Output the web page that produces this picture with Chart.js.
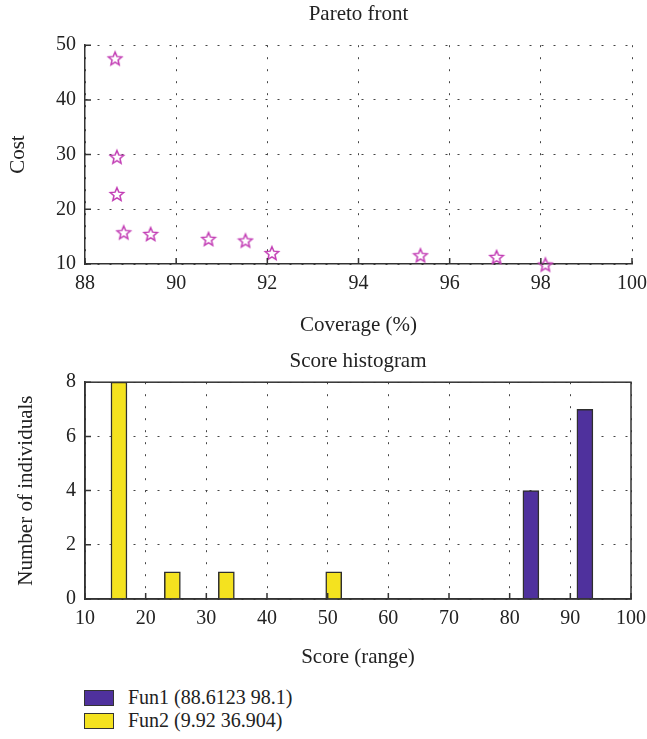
<!DOCTYPE html>
<html lang="en">
<head>
<meta charset="UTF-8">
<title>Pareto front and score histogram</title>
<script src="https://cdn.jsdelivr.net/npm/chart.js"></script>
<style>
  body { margin: 0; background: #fff; }
  #wrap { position: relative; width: 647px; height: 739px; font-family: "Liberation Serif", serif; color: #222; }
  #paretoChart { position: absolute; left: 0; top: 0; }
  #histChart { position: absolute; left: 0; top: 345px; }
  #legend { position: absolute; left: 84px; top: 686px; font-size: 20px; }
  .item { display: flex; align-items: center; height: 23px; }
  .box { width: 28px; height: 14px; border: 1.5px solid #333; margin-right: 14px; }
</style>
</head>
<body>
<div id="wrap">
  <canvas id="paretoChart" width="647" height="345"></canvas>
  <canvas id="histChart" width="647" height="335"></canvas>
  <div id="legend"></div>
</div>

<script>
// Pareto front: coverage (%) vs cost
const coverage = [88.66, 88.70, 88.70, 88.85, 89.44, 90.71, 91.52, 92.10, 95.36, 97.03, 98.10];
const cost     = [47.6, 29.6, 22.8, 15.8, 15.5, 14.6, 14.3, 12.0, 11.6, 11.3, 9.92];

// Score histogram: bin centres and counts per function
const fun1Label  = 'Fun1 (88.6123 98.1)';
const fun1Bins   = [83.5, 92.4];
const fun1Counts = [4, 7];
const fun2Label  = 'Fun2 (9.92 36.904)';
const fun2Bins   = [15.6, 24.4, 33.3, 51.0];
const fun2Counts = [8, 1, 1, 1];

const serif = '"Liberation Serif", "Times New Roman", serif';
const ink = '#222';
const tickFont = { family: serif, size: 20 };
const titleFont = { family: serif, size: 21, weight: 'normal' };

// hollow five-point star used as the scatter marker
function starMarker(r, color) {
  const s = Math.ceil(r * 2 + 4);
  const c = document.createElement('canvas');
  c.width = c.height = s;
  const g = c.getContext('2d');
  g.strokeStyle = color;
  g.lineWidth = 1.5;
  g.lineJoin = 'miter';
  g.beginPath();
  for (let i = 0; i < 10; i++) {
    const rad = i % 2 ? r * 0.45 : r;
    const ang = -Math.PI / 2 + i * Math.PI / 5;
    const px = s / 2 + rad * Math.cos(ang);
    const py = s / 2 + rad * Math.sin(ang) + r * 0.1;
    if (i) g.lineTo(px, py); else g.moveTo(px, py);
  }
  g.closePath();
  g.stroke();
  return c;
}

// short inward tick marks on left/bottom axes, optional box frame
const axisMarks = {
  id: 'axisMarks',
  afterDraw(chart, args, opts) {
    const { ctx, chartArea: a, scales: { x, y } } = chart;
    ctx.save();
    ctx.strokeStyle = '#333';
    ctx.lineWidth = 1.5;
    ctx.beginPath();
    x.ticks.forEach(t => {
      const px = x.getPixelForValue(t.value);
      ctx.moveTo(px, a.bottom);
      ctx.lineTo(px, a.bottom - 6);
    });
    y.ticks.forEach(t => {
      const py = y.getPixelForValue(t.value);
      ctx.moveTo(a.left, py);
      ctx.lineTo(a.left + 6, py);
    });
    ctx.stroke();
    if (opts.box) ctx.strokeRect(a.left, a.top, a.right - a.left, a.bottom - a.top);
    ctx.restore();
  }
};

// fixed-size x axis: no extra room reserved for the end labels
function fixX(s) {
  s.height = 81;
  s.paddingLeft = 0;
  s.paddingRight = 0;
}

function fixY(s) {
  s.width = 85;
}

function axis(min, max, step, title, extra) {
  return Object.assign({
    type: 'linear',
    min: min,
    max: max,
    offset: false,
    ticks: { stepSize: step, font: tickFont, color: ink },
    grid: { color: '#444', lineWidth: 1, drawTicks: false, offset: false },
    border: { display: true, color: '#333', width: 1.5, dash: [2, 10] },
    title: { display: true, text: title, font: titleFont, color: ink }
  }, extra);
}

const paretoChart = new Chart(document.getElementById('paretoChart'), {
  type: 'scatter',
  data: {
    datasets: [{
      label: 'Pareto front',
      data: coverage.map((v, i) => ({ x: v, y: cost[i] })),
      pointStyle: starMarker(7, '#c23cb4'),
      pointRadius: 7,
      clip: false
    }]
  },
  plugins: [axisMarks],
  options: {
    responsive: false,
    animation: false,
    layout: { padding: { left: 0, right: 15, top: 0, bottom: 0 } },
    plugins: {
      legend: { display: false },
      tooltip: { enabled: false },
      title: { display: true, text: 'Pareto front', font: titleFont, color: ink,
               fullSize: false, padding: { top: 2, bottom: 18 } },
      axisMarks: { box: false }
    },
    scales: {
      x: axis(88, 100, 2, 'Coverage (%)', { afterFit: fixX }),
      y: axis(10, 50, 10, 'Cost', { afterFit: fixY })
    }
  }
});

const histChart = new Chart(document.getElementById('histChart'), {
  type: 'bar',
  data: {
    datasets: [{
      label: fun1Label,
      data: fun1Bins.map((v, i) => ({ x: v, y: fun1Counts[i] })),
      backgroundColor: '#4f319d',
      borderColor: '#2e2e2e',
      borderWidth: 1.5,
      barThickness: 16,
      grouped: false
    }, {
      label: fun2Label,
      data: fun2Bins.map((v, i) => ({ x: v, y: fun2Counts[i] })),
      backgroundColor: '#f4e21f',
      borderColor: '#2e2e2e',
      borderWidth: 1.5,
      barThickness: 16,
      grouped: false
    }]
  },
  plugins: [axisMarks],
  options: {
    responsive: false,
    animation: false,
    layout: { padding: { left: 0, right: 16, top: 0, bottom: 0 } },
    plugins: {
      legend: { display: false },
      tooltip: { enabled: false },
      title: { display: true, text: 'Score histogram', font: titleFont, color: ink,
               fullSize: false, padding: { top: 4, bottom: 8 } },
      axisMarks: { box: true }
    },
    scales: {
      x: axis(10, 100, 10, 'Score (range)', { afterFit: fixX }),
      y: axis(0, 8, 2, 'Number of individuals', { afterFit: fixY })
    }
  }
});

// tick label and axis title spacing
[paretoChart, histChart].forEach((ch, k) => {
  const sc = ch.options.scales;
  sc.x.ticks.padding = 8;
  sc.y.ticks.padding = 9;
  sc.x.title.padding = { top: 4, bottom: k ? 10 : 7 };
  sc.y.title.padding = { top: k ? 14 : 6, bottom: 4 };
  ch.update();
});

// legend built from the histogram datasets
const legend = document.getElementById('legend');
histChart.data.datasets.forEach(ds => {
  const row = document.createElement('div');
  row.className = 'item';
  const box = document.createElement('span');
  box.className = 'box';
  box.style.background = ds.backgroundColor;
  const txt = document.createElement('span');
  txt.textContent = ds.label;
  row.appendChild(box);
  row.appendChild(txt);
  legend.appendChild(row);
});
</script>
</body>
</html>
